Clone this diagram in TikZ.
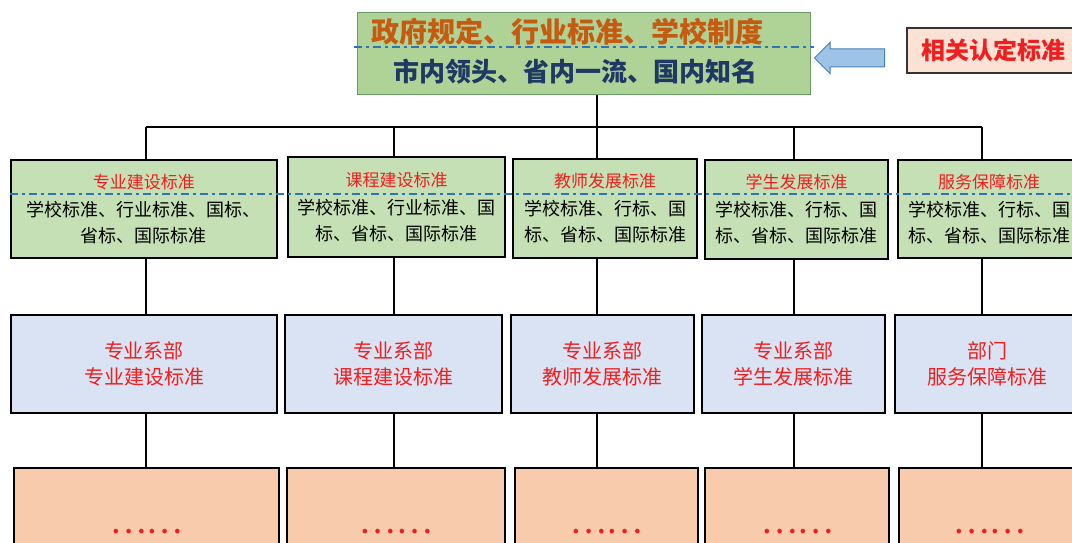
\documentclass[tikz,border=0pt]{standalone}
\usepackage{fontspec}
\setmainfont{Noto Sans CJK SC}
\usetikzlibrary{shapes.arrows}

\definecolor{topgreen}{HTML}{AFD396}
\definecolor{stdgreen}{HTML}{C5E0B4}
\definecolor{deptblue}{HTML}{DAE3F3}
\definecolor{morepeach}{HTML}{F8CBAD}
\definecolor{certpink}{HTML}{FBE2D5}
\definecolor{ruleorange}{HTML}{C55A11}
\definecolor{goalblue}{HTML}{1F3864}
\definecolor{splitblue}{HTML}{2E75B6}
\definecolor{arrowfill}{HTML}{9DC3E6}
\definecolor{arrowline}{HTML}{4A7EBB}
\definecolor{textred}{HTML}{F01E1E}

\begin{document}
\begin{tikzpicture}[x=1pt, y=-1pt,
    box/.style={draw=black, line width=2pt, inner sep=0pt, align=center},
    stdbox/.style={box, fill=stdgreen, font=\fontsize{18}{26}\selectfont},
    deptbox/.style={box, fill=deptblue, text=textred, font=\fontsize{20}{26}\selectfont},
    morebox/.style={box, fill=morepeach, text=textred, font=\fontsize{34}{34}\selectfont},
    conn/.style={line width=1.8pt},
    splitline/.style={draw=splitblue, line width=2.6pt, dash pattern=on 8pt off 4pt on 3pt off 4pt}]

\clip (0,0) rectangle (1072,543);

% top
\node[box, draw=gray!80!green, line width=1pt, fill=topgreen, minimum width=453pt, minimum height=82pt] (top) at (583.5,54) {};
\node[text=ruleorange, font=\bfseries\fontsize{28}{28}\selectfont] (rule) at (567,32) {政府规定、行业标准、学校制度};
\node[text=goalblue, font=\bfseries\fontsize{26}{26}\selectfont] (goal) at (575,72) {市内领头、省内一流、国内知名};
\draw[splitline] (354,47) -- (814,47);

\node[single arrow, shape border rotate=180, draw=arrowline, line width=1pt, fill=arrowfill,
      minimum height=70pt, inner sep=8.5pt, single arrow head extend=6.5pt] (arr) at (854,58) {};
\node[draw=black!80, line width=1.5pt, fill=certpink, minimum width=173pt, minimum height=45pt,
      text=textred, font=\bfseries\fontsize{24}{24}\selectfont] (cert) at (993.5,50.5) {相关认定标准};

% standards
\node[stdbox, minimum width=266pt, minimum height=98pt] (std1) at (144,209)
    {{\color{textred}\fontsize{17}{26}\selectfont 专业建设标准}\\[2pt]学校标准、行业标准、国标、\\省标、国际标准};
\node[stdbox, minimum width=217pt, minimum height=100pt] (std2) at (396.5,207)
    {{\color{textred}\fontsize{17}{26}\selectfont 课程建设标准}\\[2pt]学校标准、行业标准、国\\标、省标、国际标准};
\node[stdbox, minimum width=184pt, minimum height=99pt] (std3) at (605,208.5)
    {{\color{textred}\fontsize{17}{26}\selectfont 教师发展标准}\\[2pt]学校标准、行标、国\\标、省标、国际标准};
\node[stdbox, minimum width=183pt, minimum height=99pt] (std4) at (796.5,209.5)
    {{\color{textred}\fontsize{17}{26}\selectfont 学生发展标准}\\[2pt]学校标准、行标、国\\标、省标、国际标准};
\node[stdbox, minimum width=182pt, minimum height=98pt] (std5) at (989,209)
    {{\color{textred}\fontsize{17}{26}\selectfont 服务保障标准}\\[2pt]学校标准、行标、国\\标、省标、国际标准};
\draw[splitline] (10,194) -- (1072,194);

% departments
\node[deptbox, minimum width=266pt, minimum height=98pt] (dept1) at (144,364) {专业系部\\专业建设标准};
\node[deptbox, minimum width=217pt, minimum height=98pt] (dept2) at (393.5,364) {专业系部\\课程建设标准};
\node[deptbox, minimum width=183pt, minimum height=98pt] (dept3) at (602.5,364) {专业系部\\教师发展标准};
\node[deptbox, minimum width=183pt, minimum height=98pt] (dept4) at (793.5,364) {专业系部\\学生发展标准};
\node[deptbox, minimum width=185pt, minimum height=98pt] (dept5) at (987.5,364) {部门\\服务保障标准};

% more
\node[morebox, minimum width=265pt, minimum height=128pt] (more1) at (146.5,532) {……};
\node[morebox, minimum width=218pt, minimum height=128pt] (more2) at (396,532) {……};
\node[morebox, minimum width=183pt, minimum height=128pt] (more3) at (606.5,532) {……};
\node[morebox, minimum width=184pt, minimum height=128pt] (more4) at (797,532) {……};
\node[morebox, minimum width=181pt, minimum height=128pt] (more5) at (989.5,532) {……};

\coordinate (bus1) at (146,127);
\coordinate (bus2) at (394,127);
\coordinate (bus3) at (597,127);
\coordinate (bus4) at (794,127);
\coordinate (bus5) at (982,127);

\draw[conn] (bus3 |- top.south) -- (bus3);
\draw[conn] (bus1) -- (bus5);

\draw[conn] (bus1) -- (bus1 |- std1.north);
\draw[conn] (bus2) -- (bus2 |- std2.north);
\draw[conn] (bus3) -- (bus3 |- std3.north);
\draw[conn] (bus4) -- (bus4 |- std4.north);
\draw[conn] (bus5) -- (bus5 |- std5.north);

\draw[conn] (bus1 |- std1.south) -- (bus1 |- dept1.north);
\draw[conn] (bus2 |- std2.south) -- (bus2 |- dept2.north);
\draw[conn] (bus3 |- std3.south) -- (bus3 |- dept3.north);
\draw[conn] (bus4 |- std4.south) -- (bus4 |- dept4.north);
\draw[conn] (bus5 |- std5.south) -- (bus5 |- dept5.north);

\draw[conn] (bus1 |- dept1.south) -- (bus1 |- more1.north);
\draw[conn] (bus2 |- dept2.south) -- (bus2 |- more2.north);
\draw[conn] (bus3 |- dept3.south) -- (bus3 |- more3.north);
\draw[conn] (bus4 |- dept4.south) -- (bus4 |- more4.north);
\draw[conn] (bus5 |- dept5.south) -- (bus5 |- more5.north);
\end{tikzpicture}
\end{document}
